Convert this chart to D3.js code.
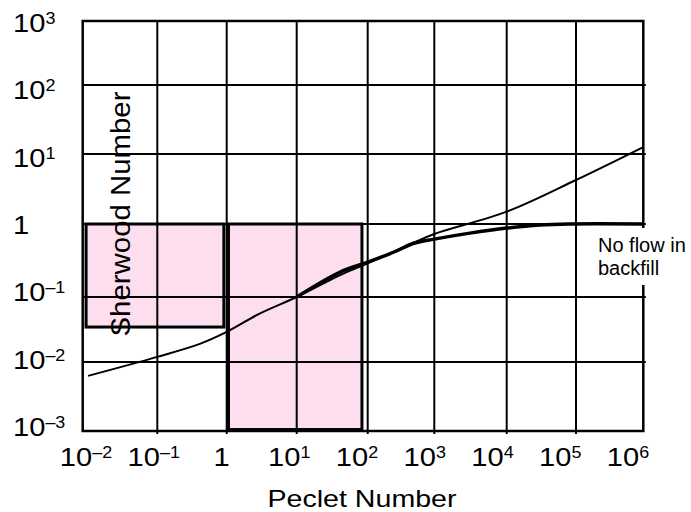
<html>
<head>
<script src="https://d3js.org/d3.v7.min.js"></script>
<style>
  body { margin: 0; background: #fff; }
  text { font-family: "Liberation Sans", Arial, Helvetica, sans-serif; fill: #000; }
</style>
</head>
<body>
<script>
// decades on both axes
var peTicks = [1e-2, 1e-1, 1, 1e1, 1e2, 1e3, 1e4, 1e5, 1e6];
var peLabels = [["10","–2"],["10","–1"],["1",""],["10","1"],["10","2"],["10","3"],["10","4"],["10","5"],["10","6"]];
var shTicks = [1e-3, 1e-2, 1e-1, 1, 1e1, 1e2, 1e3];
var shLabels = [["10","–3"],["10","–2"],["10","–1"],["1",""],["10","1"],["10","2"],["10","3"]];

// thin curve over the full Peclet range
var thinPe = [0.0118, 0.1, 0.41, 1, 3.0, 10, 41, 100, 480, 1000, 1e4, 1e5, 1e6];
var thinSh = [0.0063, 0.012, 0.019, 0.029, 0.056, 0.1, 0.2, 0.29, 0.55, 0.73, 1.5, 4.25, 12.6];

// thick curve: no flow in backfill
var thickPe = [10, 41, 100, 260, 480, 1000, 3100, 1e4, 3e4, 8e4, 1e6];
var thickSh = [0.1, 0.22, 0.30, 0.42, 0.54, 0.62, 0.75, 0.88, 0.97, 1.0, 1.0];

// shaded regions [pe0, pe1, sh0, sh1]
var regions = [[0.0111, 0.91, 0.0345, 1], [1.06, 83, 0.00105, 1]];

var W = 691, H = 512;
var svg = d3.select("body").append("svg").attr("width", W).attr("height", H);
svg.append("rect").attr("width", W).attr("height", H).attr("fill", "#fff");

// grid is hand drawn, so map each decade to its own line
var x = d3.scaleLog().domain(peTicks).range([82.7, 157.3, 226.7, 296.7, 367.7, 434.3, 506.7, 576, 643.3]);
var y = d3.scaleLog().domain(shTicks).range([431, 362, 297, 224, 154, 85, 21]);
var xLab = d3.scaleLog().domain([1e-2, 1e6]).range([86, 628]);
var yLab = d3.scaleLog().domain([1e-3, 1e3]).range([427, 23]);

var x0 = x(1e-2), x1 = x(1e6), y0 = y(1e-3), y1 = y(1e3);

// pink fills
svg.append("g").selectAll("rect").data(regions).enter().append("rect")
  .attr("x", function(d){ return x(d[0]); })
  .attr("y", function(d){ return y(d[3]); })
  .attr("width", function(d){ return x(d[1]) - x(d[0]); })
  .attr("height", function(d){ return y(d[2]) - y(d[3]); })
  .attr("fill", "#fcdeee");

// grid
var grid = svg.append("g").attr("stroke", "#000").attr("stroke-width", 2);
grid.selectAll(".gx").data(peTicks.slice(1, -1)).enter().append("line")
  .attr("x1", function(d){ return x(d); }).attr("x2", function(d){ return x(d); })
  .attr("y1", y1).attr("y2", y0 + 3);
grid.selectAll(".gy").data(shTicks.slice(1, -1)).enter().append("line")
  .attr("y1", function(d){ return y(d); }).attr("y2", function(d){ return y(d); })
  .attr("x1", x0).attr("x2", x1 + 2.5);
svg.append("rect").attr("x", x0).attr("y", y1).attr("width", x1 - x0).attr("height", y0 - y1)
  .attr("fill", "none").attr("stroke", "#000").attr("stroke-width", 2.5);

// region outlines
svg.append("g").selectAll("rect").data(regions).enter().append("rect")
  .attr("x", function(d){ return x(d[0]); })
  .attr("y", function(d){ return y(d[3]); })
  .attr("width", function(d){ return x(d[1]) - x(d[0]); })
  .attr("height", function(d){ return y(d[2]) - y(d[3]); })
  .attr("fill", "none").attr("stroke", "#000").attr("stroke-width", 3);

// curves
var line = d3.line().x(function(d){ return x(d[0]); }).y(function(d){ return y(d[1]); })
  .curve(d3.curveCatmullRom.alpha(0.5));
svg.append("path").attr("d", line(d3.zip(thickPe, thickSh)))
  .attr("fill", "none").attr("stroke", "#000").attr("stroke-width", 3.5);
svg.append("path").attr("d", line(d3.zip(thinPe, thinSh)))
  .attr("fill", "none").attr("stroke", "#000").attr("stroke-width", 2);

// label for the thick curve sits on a white patch
svg.append("rect").attr("x", 594).attr("y", 228).attr("width", 97).attr("height", 57).attr("fill", "#fff");
var note = svg.append("text").attr("font-size", 20);
note.append("tspan").attr("x", 598).attr("y", 252).text("No flow in");
note.append("tspan").attr("x", 598).attr("y", 275).text("backfill");

// tick labels
function power(g, d) {
  var t = g.append("text").attr("font-size", 26);
  t.append("tspan").text(d[0]);
  if (d[1]) t.append("tspan").attr("font-size", 16).attr("dy", -8).text(d[1]);
  return t;
}
peTicks.forEach(function(v, i){
  var g = svg.append("g").attr("transform", "translate(" + xLab(v) + ",466) scale(1.12,1)");
  power(g, peLabels[i]).attr("text-anchor", "middle");
});
shTicks.forEach(function(v, i){
  var g = svg.append("g").attr("transform", "translate(13," + (yLab(v) + 9) + ") scale(1.12,1)");
  power(g, shLabels[i]);
});

// axis titles
svg.append("text").attr("x", 362).attr("y", 507).attr("font-size", 24)
  .attr("text-anchor", "middle").attr("textLength", 189).attr("lengthAdjust", "spacingAndGlyphs")
  .text("Peclet Number");
svg.append("text").attr("transform", "translate(130,214) rotate(-90)").attr("font-size", 28)
  .attr("text-anchor", "middle").attr("textLength", 245).attr("lengthAdjust", "spacingAndGlyphs")
  .text("Sherwood Number");
</script>
</body>
</html>
